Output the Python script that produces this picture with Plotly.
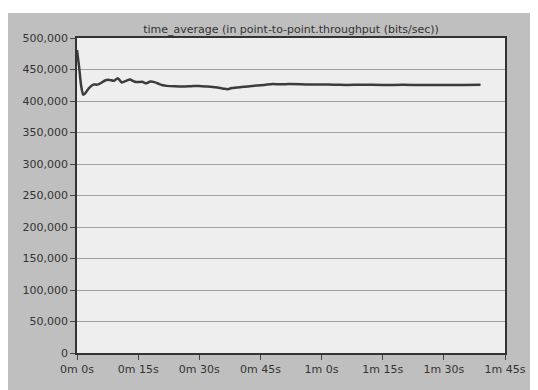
import plotly.graph_objects as go

time_s = [0, 0.5, 1, 1.5, 2, 3, 4, 5, 6, 7, 8, 9, 10, 11, 12, 13, 14, 15, 16, 17, 18, 19, 20,
          21, 22, 24, 26, 28, 30, 32, 34, 36, 37, 38, 40, 42, 44, 46, 48, 50, 52, 55, 58, 60,
          63, 66, 70, 75, 80, 85, 90, 95, 99]
throughput = [481000, 455000, 425000, 410000, 412000, 421000, 426000, 426000, 429000, 433000,
              433500, 432000, 436000, 429500, 432000, 434000, 431000, 430000, 430500, 428000,
              431000, 430000, 427500, 425000, 424000, 423300, 423000, 423500, 424000, 423000,
              421700, 419500, 418800, 420500, 422000, 423000, 424500, 425500, 427000, 426500,
              426800, 426500, 426000, 426200, 425800, 425500, 425800, 425500, 425600, 425300,
              425500, 425400, 425800]

x_tickvals = [0, 15, 30, 45, 60, 75, 90, 105]
x_ticktext = ["0m 0s", "0m 15s", "0m 30s", "0m 45s", "1m 0s", "1m 15s", "1m 30s", "1m 45s"]
y_tickvals = [0, 50000, 100000, 150000, 200000, 250000, 300000, 350000, 400000, 450000, 500000]

title_text = "time_average (in point-to-point.throughput (bits/sec))"

fig = go.Figure()
fig.add_trace(go.Scatter(x=time_s, y=throughput, mode="lines",
                         line=dict(color="#3c3c3c", width=2.5, shape="spline", smoothing=0.6),
                         showlegend=False, hoverinfo="skip"))

# page has an 8px body margin; the figure sits at (8, 8)
W, H = 530, 382
L, R, T, B = 69, 31, 30, 37
PW, PH = W - L - R, H - T - B
fig.update_layout(
    width=W, height=H,
    margin=dict(l=L, r=R, t=T, b=B, pad=0),
    paper_bgcolor="#bfbfbf",
    plot_bgcolor="#eeeeee",
    font=dict(family="DejaVu Sans, Verdana, sans-serif", size=11, color="#333333"),
    title=dict(text=title_text, x=0.5, xref="paper", xanchor="center",
               y=1 - 21 / H, yref="container", yanchor="middle",
               font=dict(size=11, color="#333333")),
    xaxis=dict(range=[0, 105], tickvals=x_tickvals, ticktext=x_ticktext,
               showgrid=False, zeroline=False, showline=True, linecolor="#333333",
               linewidth=1.5, mirror=True, ticks="outside", ticklen=5,
               tickcolor="#444444", fixedrange=True),
    yaxis=dict(range=[0, 500000], tickvals=y_tickvals, tickformat=",",
               showgrid=True, gridcolor="#a0a0a0", gridwidth=1, zeroline=False,
               showline=True, linecolor="#333333", linewidth=1.5, mirror=True,
               ticks="outside", ticklen=5, tickcolor="#444444", fixedrange=True),
    shapes=[
        dict(type="rect", xref="paper", yref="paper",
             x0=-L / PW - 0.1, x1=(W - L) / PW + 0.1,
             y0=(H - B - 5) / PH, y1=(H - B) / PH + 0.1,
             fillcolor="white", line=dict(width=0), layer="above"),
    ],
)

fig.write_html("out.html")
